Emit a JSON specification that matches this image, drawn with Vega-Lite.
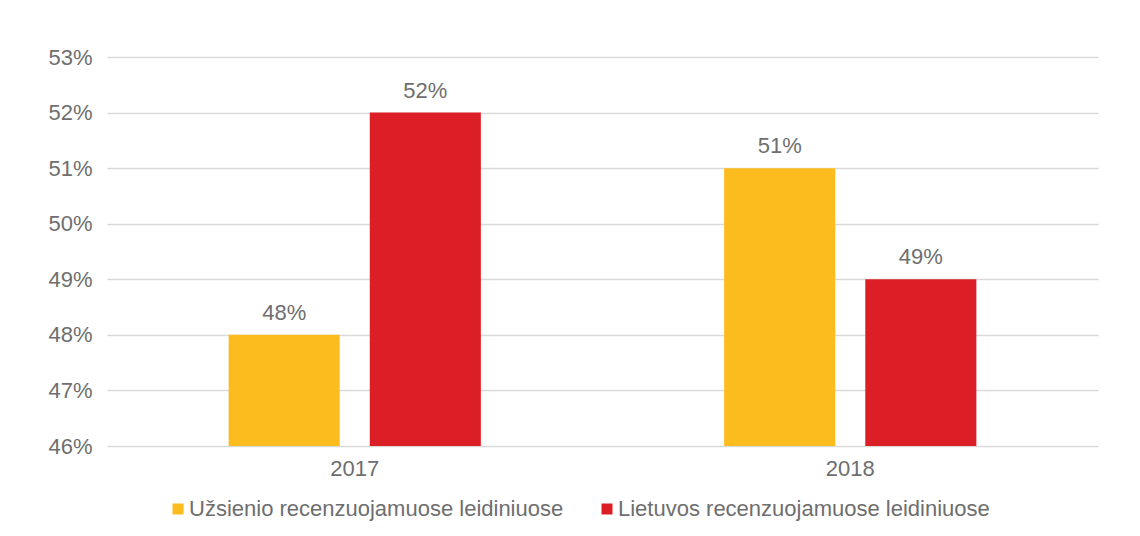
{
  "$schema": "https://vega.github.io/schema/vega-lite/v6.json",
  "width": 991,
  "height": 389,
  "autosize": {"type": "none"},
  "padding": {"left": 107, "top": 57, "right": 42, "bottom": 90},
  "background": "white",
  "config": {
    "font": "Liberation Sans",
    "view": {"stroke": null}
  },
  "data": {
    "values": [
      {"year": "2017", "series": "Užsienio recenzuojamuose leidiniuose", "value": 0.48},
      {"year": "2017", "series": "Lietuvos recenzuojamuose leidiniuose", "value": 0.52},
      {"year": "2018", "series": "Užsienio recenzuojamuose leidiniuose", "value": 0.51},
      {"year": "2018", "series": "Lietuvos recenzuojamuose leidiniuose", "value": 0.49}
    ]
  },
  "encoding": {
    "x": {
      "field": "year", "type": "nominal",
      "scale": {"paddingInner": 0.491, "paddingOuter": 0.2455},
      "axis": {"title": null, "labelAngle": 0, "domain": false, "ticks": false, "labelFontSize": 22, "labelColor": "#6e6e6e", "labelPadding": 12}
    },
    "xOffset": {
      "field": "series", "type": "nominal",
      "sort": ["Užsienio recenzuojamuose leidiniuose", "Lietuvos recenzuojamuose leidiniuose"],
      "scale": {"paddingInner": 0.213, "paddingOuter": 0}
    },
    "y": {
      "field": "value", "type": "quantitative",
      "scale": {"domain": [0.46, 0.53], "zero": false, "nice": false},
      "axis": {"title": null, "format": ".0%", "values": [0.46, 0.47, 0.48, 0.49, 0.5, 0.51, 0.52, 0.53], "domain": false, "ticks": false, "labelFontSize": 22, "labelColor": "#6e6e6e", "labelPadding": 15, "gridColor": "#d9d9d9", "gridWidth": 1.5}
    }
  },
  "layer": [
    {
      "mark": {"type": "bar"},
      "encoding": {
        "y2": {"datum": 0.46},
        "color": {
          "field": "series", "type": "nominal",
          "sort": ["Užsienio recenzuojamuose leidiniuose", "Lietuvos recenzuojamuose leidiniuose"],
          "scale": {"domain": ["Užsienio recenzuojamuose leidiniuose", "Lietuvos recenzuojamuose leidiniuose"], "range": ["#fcbc1d", "#dc1f26"]},
          "legend": {"title": null, "orient": "none", "legendX": 60, "legendY": 441, "direction": "horizontal", "symbolType": "square", "symbolSize": 121, "symbolStrokeWidth": 0, "labelFontSize": 22, "labelColor": "#6e6e6e", "columnPadding": 32, "labelOffset": 0, "labelLimit": 600}
        }
      }
    },
    {
      "mark": {"type": "text", "baseline": "alphabetic", "dy": -15, "fontSize": 22, "color": "#6e6e6e"},
      "encoding": {
        "text": {"field": "value", "type": "quantitative", "format": ".0%"}
      }
    }
  ]
}
